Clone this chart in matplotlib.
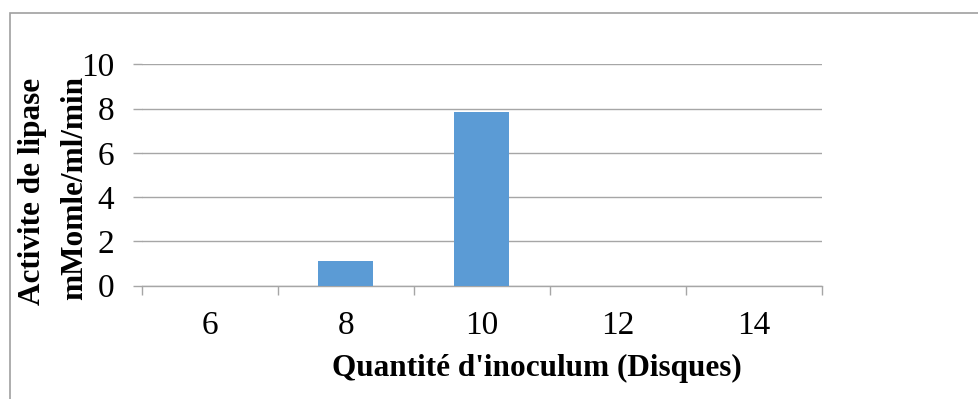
import matplotlib.pyplot as plt
import numpy as np
from matplotlib.patches import Rectangle

disques = ["6", "8", "10", "12", "14"]
activite = [0, 1.12, 7.85, 0, 0]
y_ticks = [0, 2, 4, 6, 8, 10]

W, H = 979, 399
GRID = "#A6A6A6"
plt.rcParams["font.family"] = ["Liberation Serif", "DejaVu Serif"]


def px(x, y):
    # pixel position (from top-left) -> figure fraction
    return x / W, 1 - y / H


fig = plt.figure(figsize=(W / 100, H / 100), dpi=100)
left, bottom = px(141.7, 285.7)
ax = fig.add_axes([left, bottom, 680 / W, 221.4 / H])

x = np.arange(len(disques))
ax.bar(x, activite, width=0.4, color="#5B9BD5", zorder=3)
ax.set_xlim(-0.5, len(disques) - 0.5)
ax.set_ylim(0, 10)

ax.set_yticks(y_ticks)
ax.yaxis.grid(True, color=GRID, linewidth=1.0)
ax.tick_params(axis="y", length=6.8, width=1.0, color=GRID, pad=13, labelsize=24)

# ticks between categories, labels centred under each category
ax.set_xticks(np.arange(-0.5, len(disques), 1))
ax.set_xticklabels([])
ax.set_xticks(x, minor=True)
ax.set_xticklabels(disques, minor=True)
ax.tick_params(axis="x", which="major", length=6.8, width=1.0, color=GRID)
ax.tick_params(axis="x", which="minor", length=0, pad=18, labelsize=24)

for side in ["left", "top", "right"]:
    ax.spines[side].set_visible(False)
ax.spines["bottom"].set_color(GRID)
ax.spines["bottom"].set_linewidth(1.0)

fig.text(*px(536.7, 368), "Quantité d'inoculum (Disques)", ha="center", va="center",
         fontsize=22.5, fontweight="bold")
fig.text(*px(32.5, 191), "Activite de lipase", ha="center", va="center",
         rotation=90, fontsize=22.5, fontweight="bold")
fig.text(*px(74.5, 188), "mMomle/ml/min", ha="center", va="center",
         rotation=90, fontsize=22.5, fontweight="bold")

# chart frame
bx, by = px(10, 13)
fig.patches.append(Rectangle((bx, -0.2), 1.2, by + 0.2, transform=fig.transFigure,
                             fill=False, edgecolor="#A0A0A0", linewidth=1.2))

fig.savefig("out.png", dpi=100, facecolor="white")
